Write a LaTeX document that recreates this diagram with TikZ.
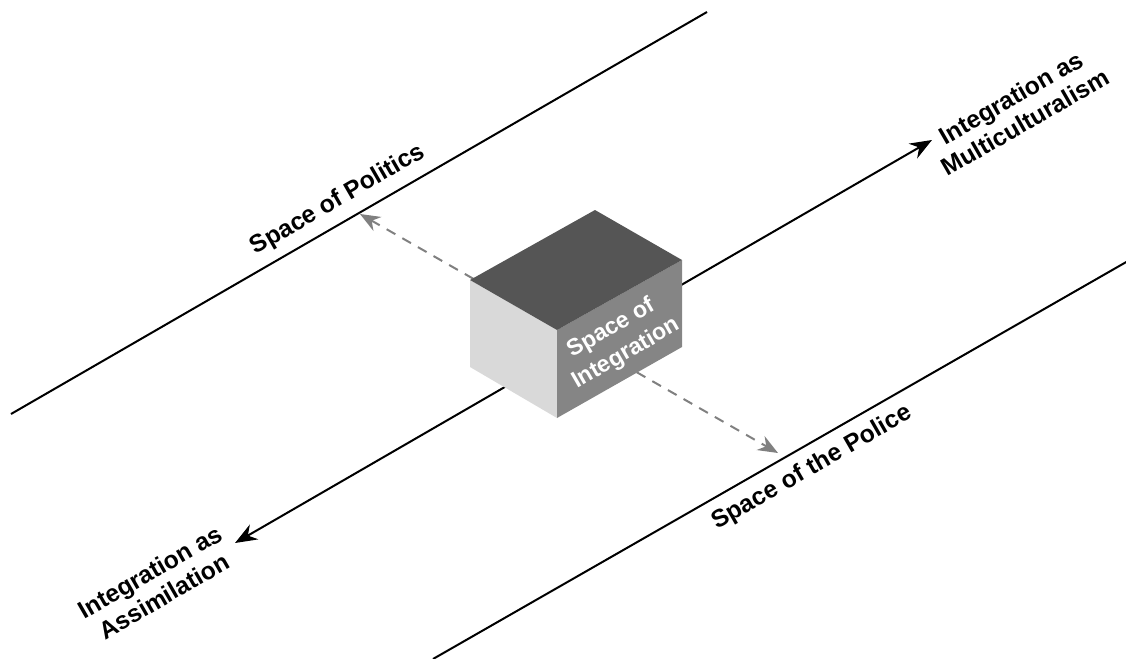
\documentclass[tikz,border=0pt]{standalone}
\usepackage{fontspec}
\setmainfont{Liberation Sans}
\usetikzlibrary{arrows.meta, calc}
\definecolor{topgray}{RGB}{85,85,85}
\definecolor{sidegray}{RGB}{217,217,217}
\definecolor{frontgray}{RGB}{133,133,133}
\definecolor{dashgray}{RGB}{128,128,128}
\tikzset{
  edgeline/.style   = {line width=1pt, black},
  twoway/.style     = {{Stealth[length=11pt, width=8.5pt]}-{Stealth[length=11pt, width=8.5pt]},
                       line width=1pt, black},
  push/.style       = {{Stealth[length=10pt, width=8pt]}-{Stealth[length=10pt, width=8pt]},
                       line width=1pt, dashgray, dash pattern=on 5pt off 4pt},
  spacelabel/.style = {font=\fontsize{12.3}{14}\selectfont\bfseries, align=center,
                       rotate=30, inner sep=0pt},
  boxtext/.style    = {font=\fontsize{11.6}{14.5}\selectfont\bfseries, align=center,
                       rotate=30, inner sep=0pt, text=white},
}

\begin{document}
\begin{tikzpicture}[x=0.5pt, y=-0.5pt]
  \useasboundingbox (0,0) rectangle (1126,659);

  % the two borders and the axis between them
  \coordinate (politics w) at (11,414);
  \coordinate (politics e) at (707,12);
  \coordinate (police w) at (433,659);
  \coordinate (police e) at (1128,261);
  \coordinate (assim) at (235,543);
  \coordinate (multi) at (932,140);
  \coordinate (up) at (360,214);
  \coordinate (down) at (778,453);

  \draw[edgeline] (politics w) -- (politics e);
  \draw[edgeline] (police w) -- (police e);
  \draw[twoway] (assim) -- (multi);
  \draw[push] (up) -- (down);

  % the box in the middle
  \coordinate (A) at (470,280);
  \coordinate (B) at (595,210);
  \coordinate (C) at (682,260);
  \coordinate (D) at (557,330);
  \coordinate (A') at (470,367);
  \coordinate (C') at (682,347);
  \coordinate (D') at (557,418);
  \fill[sidegray] (A) -- (D) -- (D') -- (A') -- cycle;
  \fill[frontgray] (D) -- (C) -- (C') -- (D') -- cycle;
  \fill[topgray] (A) -- (B) -- (C) -- (D) -- cycle;
  \node[boxtext] (integration) at (619,341) {Space of\\Integration};

  % labels
  \node[spacelabel] (politics) at (338,200) {Space of Politics};
  \node[spacelabel] (police) at (812,468) {Space of the Police};
  \node[spacelabel] (multiculturalism) at (1018,110) {Integration as\\Multiculturalism};
  \node[spacelabel] (assimilation) at (157,584) {Integration as\\Assimilation};

\end{tikzpicture}
\end{document}
